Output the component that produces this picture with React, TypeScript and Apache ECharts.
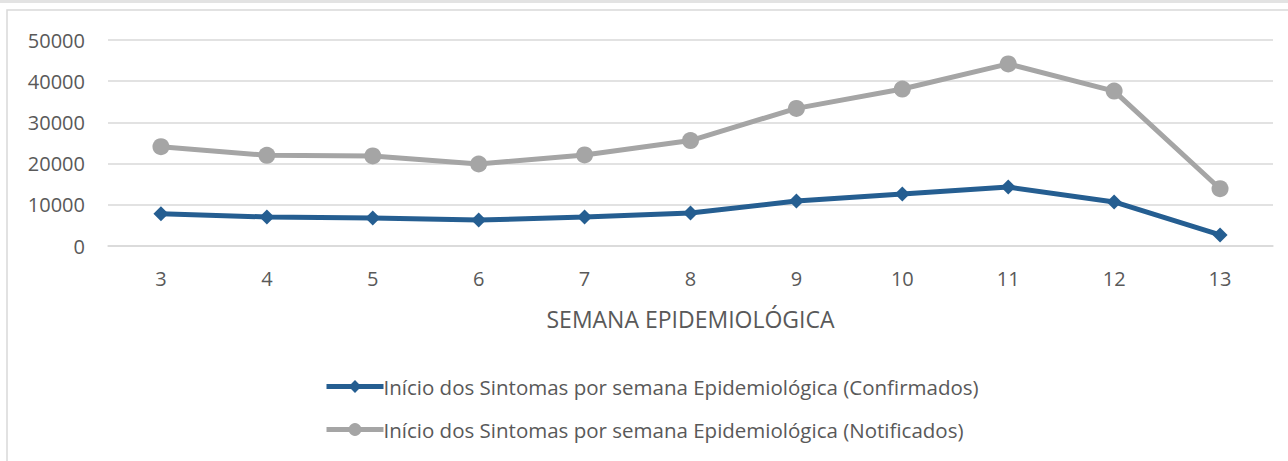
import React, { useEffect, useRef } from "react";
import * as echarts from "echarts";

const weeks = ["3", "4", "5", "6", "7", "8", "9", "10", "11", "12", "13"];
const confirmados = [7800, 7050, 6800, 6300, 7050, 8000, 10900, 12600, 14300, 10700, 2700];
const notificados = [24100, 22000, 21850, 19900, 22100, 25600, 33400, 38100, 44200, 37600, 13900];
const serieNames = [
  "Início dos Sintomas por semana Epidemiológica (Confirmados)",
  "Início dos Sintomas por semana Epidemiológica (Notificados)",
];
const axisTitle = "SEMANA EPIDEMIOLÓGICA";

const FONT = "'Open Sans', 'Noto Sans', sans-serif";

export default function App() {
  const ref = useRef<HTMLDivElement>(null);
  useEffect(() => {
    const chart = echarts.init(ref.current!, null, { renderer: "svg" });
    chart.setOption({
      animation: false,
      backgroundColor: "#ffffff",
      textStyle: { fontFamily: FONT },
      graphic: [
        { type: "rect", shape: { x: 0, y: 0, width: 1288, height: 3 }, style: { fill: "#e3e3e3" }, silent: true },
        {
          type: "rect",
          shape: { x: 7, y: 10, width: 1300, height: 470 },
          style: { fill: "none", stroke: "#d9d9d9", lineWidth: 1.5 },
          silent: true,
        },
      ],
      grid: { left: 108, right: 15, top: 40, bottom: 215 },
      legend: {
        orient: "vertical",
        left: 319,
        top: 371,
        itemWidth: 57,
        itemHeight: 16,
        itemGap: 22,
        lineStyle: { width: 5 },
        textStyle: { fontFamily: FONT, fontSize: 20.5, color: "#595959", padding: [0, 0, 0, -5] },
        data: serieNames,
      },
      xAxis: {
        type: "category",
        data: weeks,
        boundaryGap: true,
        name: axisTitle,
        nameLocation: "middle",
        nameGap: 61,
        nameTextStyle: { fontFamily: FONT, fontSize: 23, color: "#595959" },
        axisLine: { show: true, lineStyle: { color: "#d9d9d9", width: 1.5 } },
        axisTick: { show: false },
        axisLabel: { fontFamily: FONT, fontSize: 20, color: "#595959", margin: 22 },
      },
      yAxis: {
        type: "value",
        min: 0,
        max: 50000,
        interval: 10000,
        axisLine: { show: false },
        axisTick: { show: false },
        axisLabel: {
          fontFamily: FONT,
          fontSize: 20,
          color: "#595959",
          margin: 23,
          formatter: (v: number) => String(v),
        },
        splitLine: { lineStyle: { color: "#d9d9d9", width: 1.5 } },
      },
      series: [
        {
          name: serieNames[0],
          type: "line",
          data: confirmados,
          symbol: "diamond",
          symbolSize: 15,
          lineStyle: { color: "#255e91", width: 5 },
          itemStyle: { color: "#255e91" },
          z: 3,
        },
        {
          name: serieNames[1],
          type: "line",
          data: notificados,
          symbol: "circle",
          symbolSize: 17,
          lineStyle: { color: "#a5a5a5", width: 5 },
          itemStyle: { color: "#a5a5a5" },
          z: 2,
        },
      ],
    });
    return () => chart.dispose();
  }, []);
  return (
    <div
      ref={ref}
      style={{ position: "absolute", left: 0, top: 0, width: 1288, height: 461 }}
    />
  );
}
